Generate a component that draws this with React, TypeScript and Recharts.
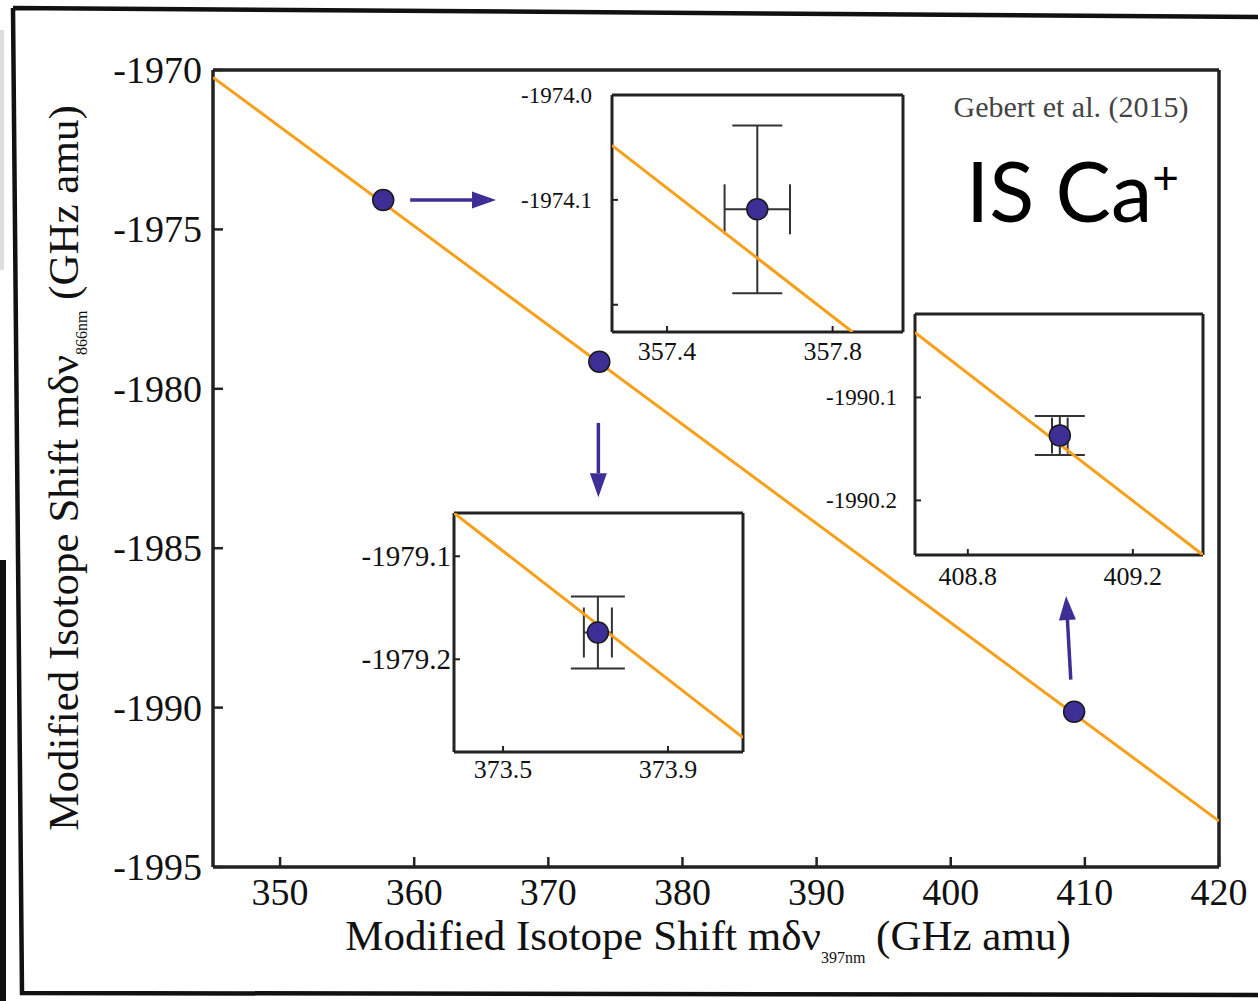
import React from "react";
import { ScatterChart, Scatter, XAxis, YAxis, ErrorBar, ReferenceLine } from "recharts";

const SERIF = '"Liberation Serif", "Times New Roman", serif';
const ORANGE = "#f6a01c";
const PURPLE = "#3d2f95";
const INK = "#222";

// main panel
const mainXTicks = [350, 360, 370, 380, 390, 400, 410, 420];
const mainYTicks = [-1995, -1990, -1985, -1980, -1975, -1970];
const mainFit = [
  { x: 345, y: -1970.23 },
  { x: 420, y: -1993.56 },
];
const mainPoints = [
  { x: 357.69, y: -1974.08 },
  { x: 373.8, y: -1979.15 },
  { x: 409.2, y: -1990.13 },
];
// arrows pointing from each point to its zoomed inset
const arrowFrom = [
  { x: 359.7, y: -1974.08 },
  { x: 373.73, y: -1981.07 },
  { x: 408.95, y: -1989.12 },
];
const arrowTo = [
  { x: 366.1, y: -1974.08 },
  { x: 373.73, y: -1983.4 },
  { x: 408.6, y: -1986.5 },
];

// inset 1 (357.x)
const in1XTicks = [357.4, 357.8];
const in1YTicks = [-1974.2, -1974.1, -1974.0];
const in1Fit = [
  { x: 357.267, y: -1974.048 },
  { x: 357.848, y: -1974.226 },
];
const in1Point = [{ x: 357.618, y: -1974.109, ex: 0.079, ey: 0.08 }];

// inset 2 (373.x)
const in2XTicks = [373.5, 373.9];
const in2YTicks = [-1979.2, -1979.1];
const in2Fit = [
  { x: 373.381, y: -1979.058 },
  { x: 374.082, y: -1979.276 },
];
const in2Point = [{ x: 373.73, y: -1979.174, ex: 0.034, ey: 0.035 }];

// inset 3 (409.x)
const in3XTicks = [408.8, 409.2];
const in3YTicks = [-1990.2, -1990.1];
const in3Fit = [
  { x: 408.672, y: -1990.037 },
  { x: 409.37, y: -1990.253 },
];
const in3Point = [{ x: 409.023, y: -1990.137, ex: 0.019, ey: 0.019 }];

const Dot = (p: any) => (
  <circle cx={p.cx} cy={p.cy} r={10.5} fill={PURPLE} stroke="#1a1a1a" strokeWidth={1.5} />
);
const NoDot = () => <g />;

// serif tick labels (x: below the axis, y: left of the axis)
const xTick = (size: number, fmt: (v: number) => string) => (p: any) => (
  <text x={p.x} y={p.y} dy="0.71em" textAnchor="middle" fontFamily={SERIF} fontSize={size} fill="#111">
    {fmt(p.payload.value)}
  </text>
);
const yTick = (size: number, fmt: (v: number) => string) => (p: any) => (
  <text x={p.x} y={p.y} dy="0.34em" textAnchor="end" fontFamily={SERIF} fontSize={size} fill="#111">
    {fmt(p.payload.value)}
  </text>
);

const Arrow = (p: any) => {
  const { x1, y1, x2, y2 } = p;
  const a = Math.atan2(y2 - y1, x2 - x1);
  const L = 24;
  const W = 8.5;
  const bx = x2 - L * Math.cos(a);
  const by = y2 - L * Math.sin(a);
  const nx = -Math.sin(a) * W;
  const ny = Math.cos(a) * W;
  return (
    <g>
      <line x1={x1} y1={y1} x2={bx} y2={by} stroke={PURPLE} strokeWidth={3.5} />
      <polygon points={`${x2},${y2} ${bx + nx},${by + ny} ${bx - nx},${by - ny}`} fill={PURPLE} />
    </g>
  );
};

interface InsetProps {
  left: number;
  top: number;
  w: number;
  h: number;
  xDomain: [number, number];
  yDomain: [number, number];
  xTicks: number[];
  yTicks: number[];
  fit: { x: number; y: number }[];
  point: { x: number; y: number; ex: number; ey: number }[];
  hideY?: number;
  yFont: number;
  yMargin: number;
  xMargin: number;
  yCap: number;
  xCap: number;
}

// small zoom panels, plot area placed at (left, top) with size w x h
function Inset(p: InsetProps) {
  const padL = 100;
  const padB = 50;
  const padT = 20;
  const fmtY = (v: number) =>
    p.hideY !== undefined && Math.abs(v - p.hideY) < 1e-6 ? "" : v.toFixed(1);
  return (
    <div style={{ position: "absolute", left: p.left - padL, top: p.top - padT }}>
      <ScatterChart
        width={p.w + padL + 10}
        height={p.h + padT + padB}
        margin={{ top: padT - 1, right: 9, bottom: 0, left: 0 }}
      >
        <rect x={padL} y={padT} width={p.w} height={p.h} fill="#fff" />
        <XAxis
          type="number"
          dataKey="x"
          domain={p.xDomain}
          allowDataOverflow
          ticks={p.xTicks}
          height={padB}
          tickSize={-6}
          tickMargin={p.xMargin}
          axisLine={{ stroke: INK, strokeWidth: 3 }}
          tickLine={{ stroke: INK, strokeWidth: 2 }}
          tick={xTick(26, (v) => v.toFixed(1))}
        />
        <XAxis
          xAxisId="top"
          orientation="top"
          type="number"
          dataKey="x"
          domain={p.xDomain}
          allowDataOverflow
          ticks={p.xTicks}
          height={1}
          tickSize={-6}
          tick={false}
          axisLine={{ stroke: INK, strokeWidth: 3 }}
          tickLine={{ stroke: INK, strokeWidth: 2 }}
        />
        <YAxis
          type="number"
          dataKey="y"
          domain={p.yDomain}
          allowDataOverflow
          ticks={p.yTicks}
          width={padL}
          tickSize={-6}
          tickMargin={p.yMargin}
          axisLine={{ stroke: INK, strokeWidth: 3 }}
          tickLine={{ stroke: INK, strokeWidth: 2 }}
          tick={yTick(p.yFont, fmtY)}
        />
        <YAxis
          yAxisId="right"
          orientation="right"
          type="number"
          dataKey="y"
          domain={p.yDomain}
          allowDataOverflow
          ticks={p.yTicks}
          width={1}
          tickSize={-6}
          tick={false}
          axisLine={{ stroke: INK, strokeWidth: 3 }}
          tickLine={{ stroke: INK, strokeWidth: 2 }}
        />
        <Scatter
          data={p.fit}
          shape={NoDot}
          line={{ stroke: ORANGE, strokeWidth: 3 }}
          isAnimationActive={false}
        />
        <Scatter data={p.point} shape={NoDot} isAnimationActive={false}>
          <ErrorBar dataKey="ey" direction="y" width={p.yCap} stroke="#333" strokeWidth={2} isAnimationActive={false} />
          <ErrorBar dataKey="ex" direction="x" width={p.xCap} stroke="#333" strokeWidth={2} isAnimationActive={false} />
        </Scatter>
        <Scatter data={p.point} shape={Dot} isAnimationActive={false} />
      </ScatterChart>
    </div>
  );
}

export default function App() {
  return (
    <div
      style={{
        position: "absolute",
        left: 0,
        top: 0,
        width: 1258,
        height: 1001,
        background: "#fff",
        overflow: "hidden",
        fontFamily: SERIF,
      }}
    >
      <div style={{ position: "absolute", left: 0, top: 0 }}>
        <ScatterChart width={1258} height={1001} margin={{ top: 69, right: 38, bottom: 74, left: 113 }}>
          <XAxis
            type="number"
            dataKey="x"
            domain={[345, 420]}
            allowDataOverflow
            ticks={mainXTicks}
            height={60}
            tickSize={-10}
            tickMargin={21}
            axisLine={{ stroke: INK, strokeWidth: 3.5 }}
            tickLine={{ stroke: INK, strokeWidth: 2.5 }}
            tick={xTick(38, (v) => String(v))}
          />
          <XAxis
            xAxisId="top"
            orientation="top"
            type="number"
            dataKey="x"
            domain={[345, 420]}
            allowDataOverflow
            ticks={mainXTicks}
            height={1}
            tickSize={-10}
            tick={false}
            axisLine={{ stroke: INK, strokeWidth: 3.5 }}
            tickLine={{ stroke: INK, strokeWidth: 2.5 }}
          />
          <YAxis
            type="number"
            dataKey="y"
            domain={[-1995, -1970]}
            allowDataOverflow
            ticks={mainYTicks}
            width={100}
            tickSize={-10}
            tickMargin={21}
            axisLine={{ stroke: INK, strokeWidth: 3.5 }}
            tickLine={{ stroke: INK, strokeWidth: 2.5 }}
            tick={yTick(38, (v) => String(v))}
          />
          <YAxis
            yAxisId="right"
            orientation="right"
            type="number"
            dataKey="y"
            domain={[-1995, -1970]}
            allowDataOverflow
            ticks={mainYTicks}
            width={1}
            tickSize={-10}
            tick={false}
            axisLine={{ stroke: INK, strokeWidth: 3.5 }}
            tickLine={{ stroke: INK, strokeWidth: 2.5 }}
          />
          <Scatter
            data={mainFit}
            shape={NoDot}
            line={{ stroke: ORANGE, strokeWidth: 3 }}
            isAnimationActive={false}
          />
          <Scatter data={mainPoints} shape={Dot} isAnimationActive={false} />
          {arrowFrom.map((f, i) => (
            <ReferenceLine key={i} segment={[f, arrowTo[i]]} shape={Arrow} ifOverflow="visible" />
          ))}
        </ScatterChart>
      </div>

      <svg width={1258} height={1001} style={{ position: "absolute", left: 0, top: 0, pointerEvents: "none" }}>
        {/* scanned page frame */}
        <rect x={0} y={30} width={4} height={240} fill="#ddd" />
        <rect x={0} y={560} width={6} height={441} fill="#111" />
        <path d="M13,8 L1260,17 M13,8 L22,993 L1260,995" fill="none" stroke="#111" strokeWidth={4.5} />
        <text
          x={78}
          y={468}
          transform="rotate(-90 78 468)"
          textAnchor="middle"
          fontFamily={SERIF}
          fontSize={43}
          fill="#111"
        >
          Modified Isotope Shift mδν
          <tspan fontSize={16} dy={9}>866nm</tspan>
          <tspan dy={-9}> (GHz amu)</tspan>
        </text>
        <text x={708} y={950} textAnchor="middle" fontFamily={SERIF} fontSize={43} fill="#111">
          Modified Isotope Shift mδν
          <tspan fontSize={16} dy={13}>397nm</tspan>
          <tspan dy={-13}> (GHz amu)</tspan>
        </text>
        <text x={1071} y={117} textAnchor="middle" fontFamily={SERIF} fontSize={30} fill="#444">
          Gebert et al. (2015)
        </text>
        <text x={966} y={222} fontFamily="Lato, sans-serif" fontSize={83} fill="#000">
          IS Ca
          <tspan fontSize={46} dy={-28}>+</tspan>
        </text>
      </svg>

      <Inset
        left={612}
        top={95}
        w={291}
        h={237}
        xDomain={[357.267, 357.97]}
        yDomain={[-1974.226, -1974.0]}
        xTicks={in1XTicks}
        yTicks={in1YTicks}
        hideY={-1974.2}
        fit={in1Fit}
        point={in1Point}
        yFont={23}
        yMargin={26}
        xMargin={16}
        yCap={25}
        xCap={25}
      />
      <Inset
        left={454}
        top={513}
        w={289}
        h={239}
        xDomain={[373.381, 374.082]}
        yDomain={[-1979.29, -1979.058]}
        xTicks={in2XTicks}
        yTicks={in2YTicks}
        fit={in2Fit}
        point={in2Point}
        yFont={29}
        yMargin={9}
        xMargin={14}
        yCap={27}
        xCap={25}
      />
      <Inset
        left={915}
        top={314}
        w={288}
        h={241}
        xDomain={[408.672, 409.37]}
        yDomain={[-1990.253, -1990.019]}
        xTicks={in3XTicks}
        yTicks={in3YTicks}
        fit={in3Fit}
        point={in3Point}
        yFont={23}
        yMargin={24}
        xMargin={18}
        yCap={25}
        xCap={18}
      />
    </div>
  );
}
